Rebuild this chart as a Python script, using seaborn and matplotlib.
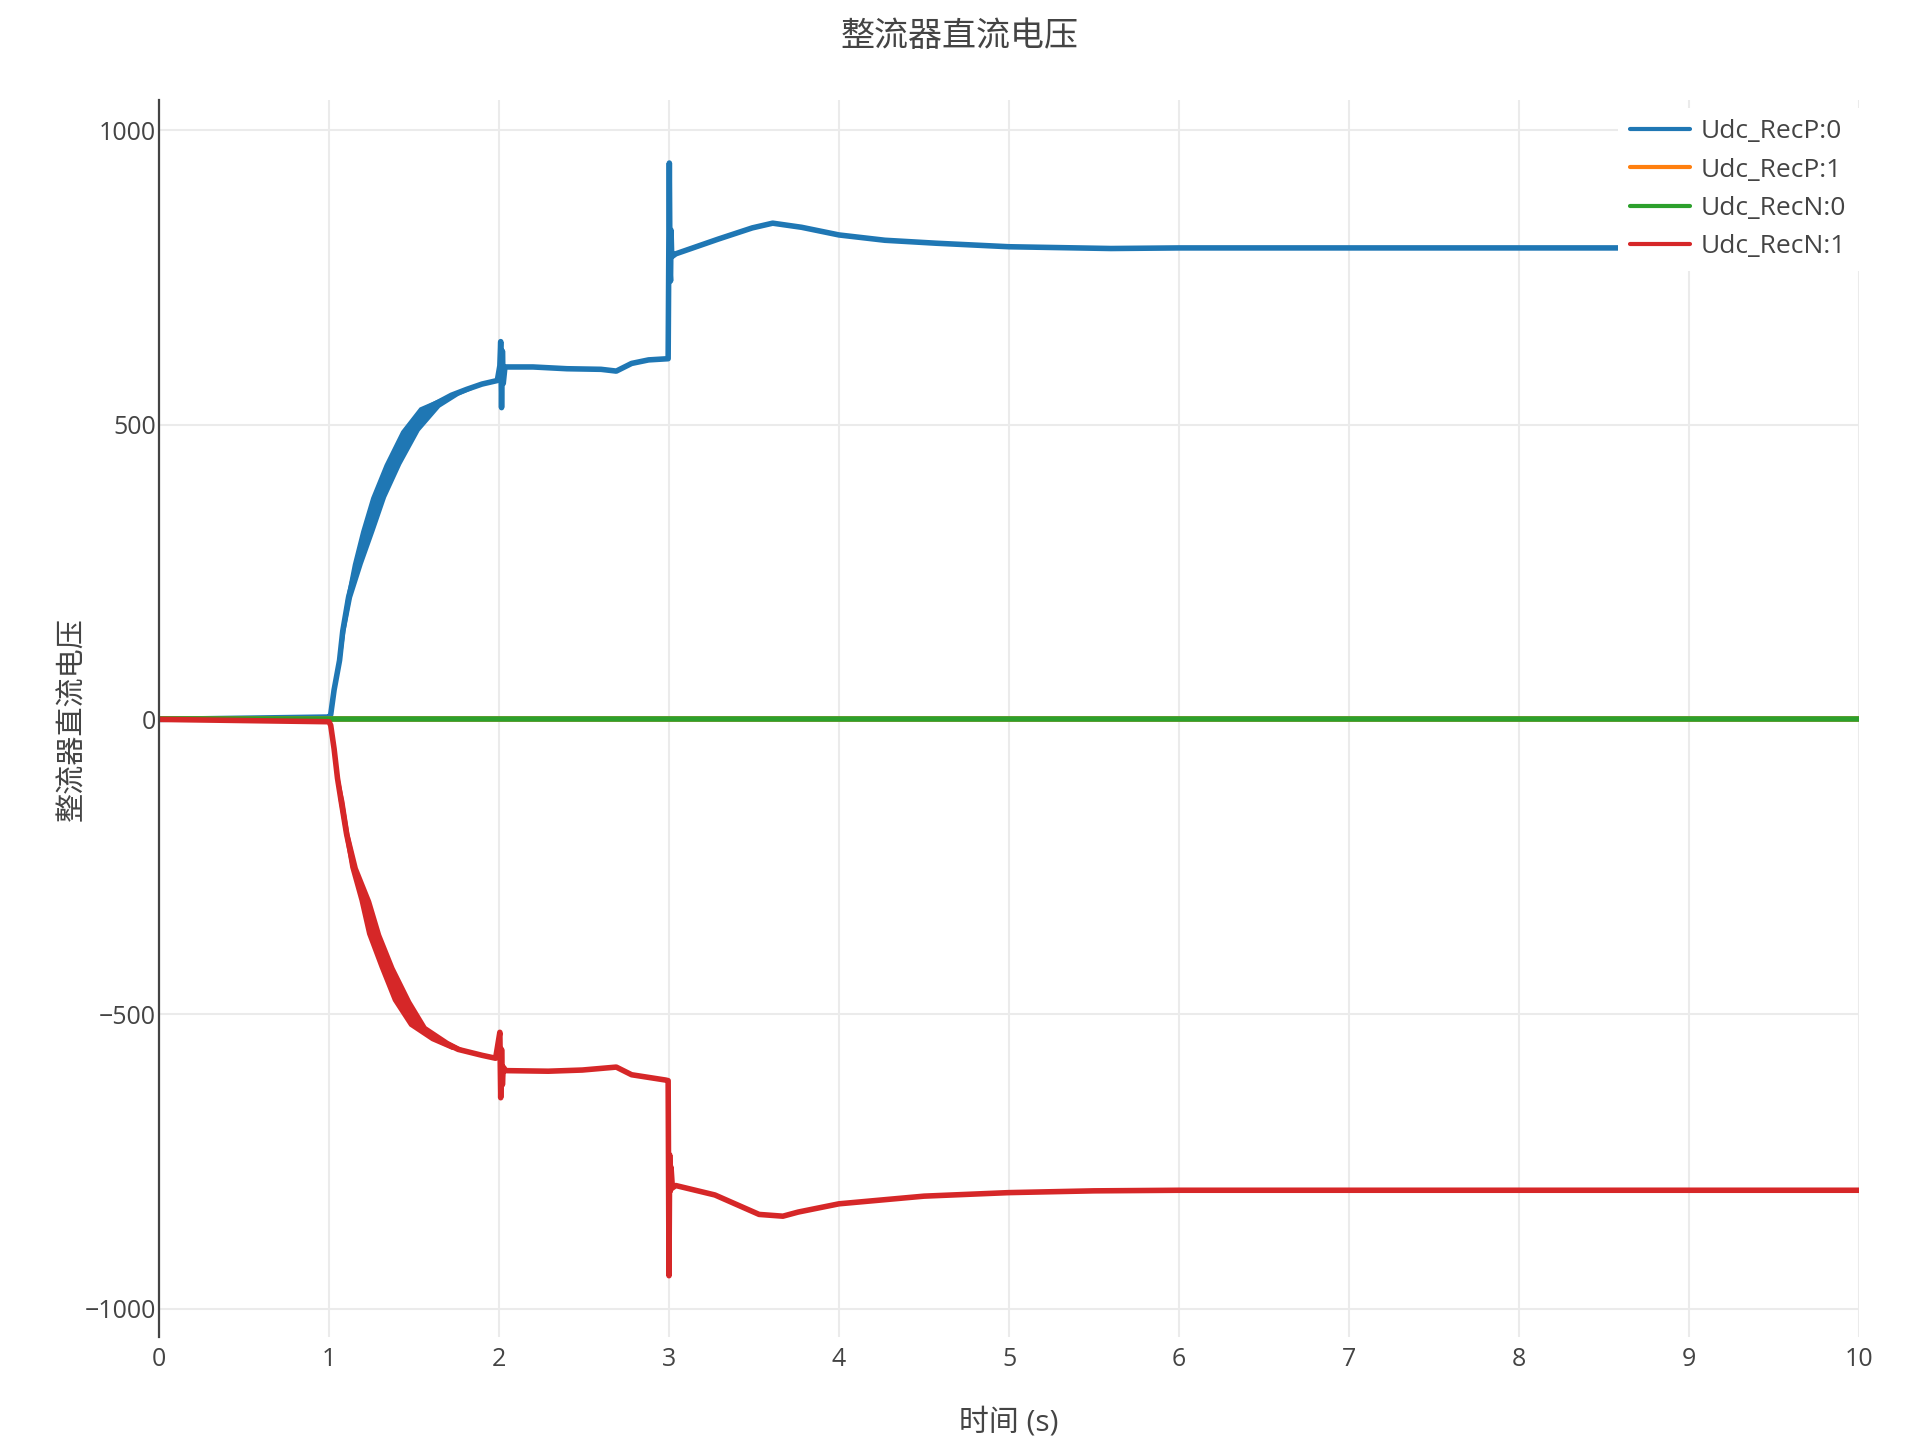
import matplotlib
matplotlib.use('Agg')
import matplotlib.pyplot as plt
import pandas as pd
import seaborn as sns

# Udc_RecP:0 (blue) - key points
t_p0 = [0, 0.5, 1.0, 1.01, 1.03, 1.062, 1.081, 1.115, 1.166, 1.225, 1.289,
        1.373, 1.476, 1.59, 1.72, 1.81,
        1.90, 1.99, 2.005, 2.01, 2.015, 2.02, 2.025, 2.035,
        2.2, 2.4, 2.6, 2.69, 2.78, 2.88, 2.995,
        3.002, 3.006, 3.009, 3.012, 3.016, 3.04,
        3.29, 3.49, 3.61, 3.78, 4.0, 4.27, 4.57, 5.0, 5.6,
        6.0, 7.0, 8.0, 9.0, 10.0]
u_p0 = [0, 2, 4, 8, 50, 100, 150, 207, 264, 320, 377,
        433, 490, 530, 550, 560,
        569, 575, 600, 641, 529, 625, 570, 598,
        598, 595, 594, 591, 604, 610, 612,
        944, 760, 744, 830, 785, 790,
        815, 834, 842, 835, 822, 813, 808, 802, 799,
        800, 800, 800, 800, 800]

# ripple envelope of Udc_RecP:0 during the ramp (left / right edge at each level)
band_u_p0 = [50, 100, 150, 207, 264, 320, 377, 433, 490, 530, 550, 560]
band_tl_p0 = [1.025, 1.055, 1.069, 1.098, 1.137, 1.186, 1.245, 1.324, 1.422, 1.53, 1.69, 1.78]
band_tr_p0 = [1.035, 1.07, 1.094, 1.133, 1.196, 1.265, 1.333, 1.422, 1.53, 1.65, 1.76, 1.84]

# Udc_RecP:1 (orange) and Udc_RecN:0 (green) stay at zero
t_zero = [0, 10]
u_p1 = [0, 0]
u_n0 = [0, 0]

# Udc_RecN:1 (red)
t_n1 = [0, 0.5, 1.0, 1.01, 1.03, 1.05, 1.071, 1.103, 1.145, 1.21, 1.262,
        1.338, 1.426, 1.52, 1.65, 1.76,
        1.90, 1.98, 2.005, 2.01, 2.015, 2.02, 2.025, 2.04,
        2.29, 2.49, 2.69, 2.78, 2.98, 2.995, 3.0, 3.004, 3.008, 3.012,
        3.02, 3.04, 3.27, 3.53, 3.67, 3.76, 4.0, 4.5, 5.0, 5.5,
        6.0, 7.0, 8.0, 9.0, 10.0]
u_n1 = [0, -2, -4, -10, -50, -100, -138, -194, -251, -307, -364,
        -420, -477, -520, -545, -560,
        -570, -575, -531, -642, -560, -620, -590, -596,
        -597, -595, -590, -603, -612, -613, -944, -739, -800, -760,
        -795, -791, -807, -840, -843, -836, -822, -809, -803, -800,
        -799, -799, -799, -799, -799]

band_u_n1 = [-50, -100, -138, -194, -251, -307, -364, -420, -477, -520, -545, -560]
band_tl_n1 = [1.025, 1.04, 1.055, 1.088, 1.122, 1.176, 1.221, 1.294, 1.373, 1.47, 1.60, 1.72]
band_tr_n1 = [1.035, 1.06, 1.088, 1.118, 1.167, 1.245, 1.304, 1.382, 1.48, 1.57, 1.70, 1.80]

y_ticks = [-1000, -500, 0, 500, 1000]
x_ticks = list(range(0, 11))

colors = {'Udc_RecP:0': '#1f77b4', 'Udc_RecP:1': '#ff7f0e',
          'Udc_RecN:0': '#2ca02c', 'Udc_RecN:1': '#d62728'}

sns.set_theme(style='white')
plt.rcParams['font.family'] = ['Open Sans', 'Noto Sans CJK SC', 'DejaVu Sans']
plt.rcParams['axes.unicode_minus'] = True
text_color = '#444444'

fig = plt.figure(figsize=(19.2, 14.4), dpi=100)
ax = fig.add_axes([159 / 1920, 1 - 1337 / 1440, 1700 / 1920, 1237 / 1440])

series = [
    ('Udc_RecP:0', t_p0, u_p0),
    ('Udc_RecP:1', t_zero, u_p1),
    ('Udc_RecN:0', t_zero, u_n0),
    ('Udc_RecN:1', t_n1, u_n1),
]
for name, t, u in series:
    df = pd.DataFrame({'t': t, 'u': u})
    sns.lineplot(data=df, x='t', y='u', ax=ax, color=colors[name], lw=4,
                 estimator=None, sort=False, label=name)

ax.fill_betweenx(band_u_p0, band_tl_p0, band_tr_p0, color=colors['Udc_RecP:0'], lw=0)
ax.fill_betweenx(band_u_n1, band_tl_n1, band_tr_n1, color=colors['Udc_RecN:1'], lw=0)

ax.set_xlim(0, 10)
ax.set_ylim(-1048, 1051)
ax.set_xticks(x_ticks)
ax.set_yticks(y_ticks)
ax.grid(True, color='#ebebeb', lw=1.5)
ax.set_axisbelow(True)
for side in ['top', 'right', 'bottom']:
    ax.spines[side].set_visible(False)
ax.spines['left'].set_color(text_color)
ax.spines['left'].set_linewidth(1.6)
ax.tick_params(axis='x', length=0, pad=7, labelsize=18, labelcolor=text_color)
ax.tick_params(axis='y', length=0, pad=2, labelsize=18, labelcolor=text_color)
ax.set_xlabel('')
ax.set_ylabel('')

leg_top = 1 - 107.5 / 1440
leg = ax.legend(loc='upper left',
                bbox_to_anchor=(1618 / 1920, 0.5, (1872 - 1618) / 1920, leg_top - 0.5),
                bbox_transform=fig.transFigure, mode='expand', fontsize=19,
                frameon=True, facecolor='white', edgecolor='none', framealpha=1,
                fancybox=False, handlelength=2.27, handletextpad=0.4,
                labelspacing=0.5, borderpad=0.45, borderaxespad=0)
for line in leg.get_lines():
    line.set_linewidth(3)
for txt in leg.get_texts():
    txt.set_color(text_color)

fig.text(0.5, 1 - 37 / 1440, '整流器直流电压', ha='center', va='center',
         fontsize=24.5, color=text_color)
fig.text(1009 / 1920, 1 - 1423 / 1440, '时间 (s)', ha='center', va='center',
         fontsize=21.5, color=text_color)
fig.text(73 / 1920, 1 - 719 / 1440, '整流器直流电压', ha='center', va='center',
         rotation=90, fontsize=21, color=text_color)

fig.savefig('out.png', dpi=100, facecolor='white')
